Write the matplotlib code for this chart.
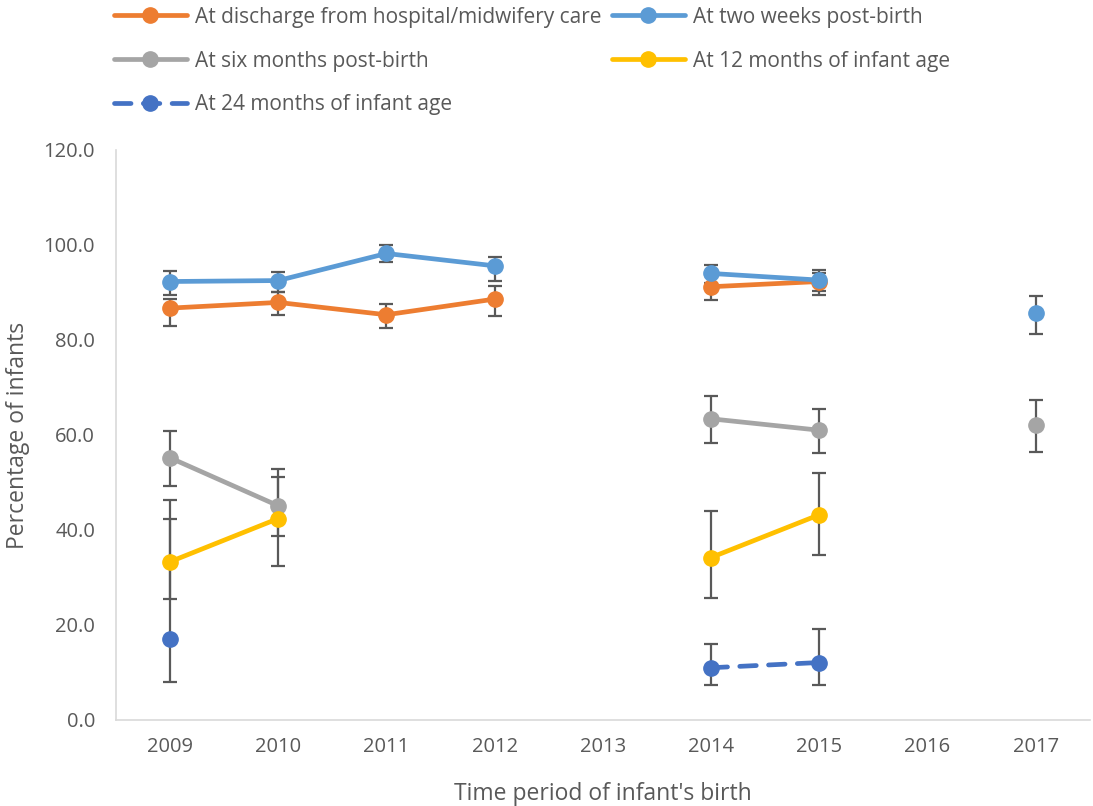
import matplotlib.pyplot as plt
import numpy as np

plt.rcParams['font.family'] = ['Open Sans', 'DejaVu Sans']

nan = np.nan
years = [2009, 2010, 2011, 2012, 2013, 2014, 2015, 2016, 2017]

# point estimates and interval bounds, NaN where no data
discharge = [86.7, 87.9, 85.3, 88.6, nan, 91.2, 92.3, nan, nan]
discharge_lo = [82.9, 85.2, 82.5, 85.1, nan, 88.4, 89.5, nan, nan]
discharge_hi = [88.6, 90.1, 87.6, 91.4, nan, 93.5, 94.0, nan, nan]

two_weeks = [92.3, 92.5, 98.2, 95.6, nan, 94.0, 92.6, nan, 85.7]
two_weeks_lo = [89.5, 90.1, 96.5, 92.5, nan, 92.0, 90.2, nan, 81.3]
two_weeks_hi = [94.6, 94.4, 99.9, 97.5, nan, 95.8, 94.7, nan, 89.2]

six_months = [55.2, 45.1, nan, nan, nan, 63.4, 61.0, nan, 62.1]
six_months_lo = [49.2, 38.8, nan, nan, nan, 58.4, 56.1, nan, 56.4]
six_months_hi = [60.9, 52.8, nan, nan, nan, 68.2, 65.5, nan, 67.3]

twelve_months = [33.3, 42.4, nan, nan, nan, 34.2, 43.2, nan, nan]
twelve_months_lo = [25.4, 32.5, nan, nan, nan, 25.6, 34.7, nan, nan]
twelve_months_hi = [46.4, 51.2, nan, nan, nan, 43.9, 51.9, nan, nan]

months24 = [17.0, nan, nan, nan, nan, 11.0, 12.1, nan, nan]
months24_lo = [7.9, nan, nan, nan, nan, 7.4, 7.4, nan, nan]
months24_hi = [42.3, nan, nan, nan, nan, 16.0, 19.1, nan, nan]

series = [
    ("At discharge from hospital/midwifery care", discharge, discharge_lo, discharge_hi, "#ED7D31", "-"),
    ("At two weeks post-birth", two_weeks, two_weeks_lo, two_weeks_hi, "#5B9BD5", "-"),
    ("At six months post-birth", six_months, six_months_lo, six_months_hi, "#A5A5A5", "-"),
    ("At 12 months of infant age", twelve_months, twelve_months_lo, twelve_months_hi, "#FFC000", "-"),
    ("At 24 months of infant age", months24, months24_lo, months24_hi, "#4472C4", "--"),
]

txt = "#595959"
fig = plt.figure(figsize=(10.93, 8.06), dpi=100)
ax = fig.add_axes([0.106, 0.1067, 0.891, 0.7073])

handles = []
for label, vals, lo, hi, color, ls in series:
    v = np.array(vals)
    yerr = [v - np.array(lo), np.array(hi) - v]
    ax.errorbar(years, v, yerr=yerr, fmt="none", ecolor="#595959",
                elinewidth=1.6, capsize=5, capthick=1.6, zorder=2)
    line, = ax.plot(years, v, color=color, lw=3.4, ls=ls, marker="o",
                    markersize=11, zorder=3, solid_capstyle="round",
                    dash_capstyle="round")
    if ls == "--":
        line.set_dashes((3.5, 2.6))
    handles.append(line)

ax.set_xlim(2008.5, 2017.5)
ax.set_ylim(0, 120)
ax.set_xticks(years)
ax.set_yticks(np.arange(0, 121, 20))
ax.set_yticklabels([f"{t:.1f}" for t in np.arange(0, 121, 20)])
ax.tick_params(length=0, labelsize=14.5, colors=txt)
ax.tick_params(axis="y", pad=15)
ax.tick_params(axis="x", pad=12)
for s in ("top", "right"):
    ax.spines[s].set_visible(False)
for s in ("left", "bottom"):
    ax.spines[s].set_color("#D9D9D9")
    ax.spines[s].set_linewidth(1.2)

ax.set_xlabel("Time period of infant's birth", fontsize=16.5, color=txt, labelpad=18)
ax.set_ylabel("Percentage of infants", fontsize=16.5, color=txt, labelpad=10)

# legend laid out row by row as in the original
order = [0, 2, 4, 1, 3]
fig.legend([handles[i] for i in order], [series[i][0] for i in order],
           loc="upper left", bbox_to_anchor=(0.087, 1.015), ncol=2,
           frameon=False, fontsize=15, labelcolor=txt, handlelength=3.5,
           handletextpad=0.4, columnspacing=0.5, labelspacing=1.1)

fig.savefig("out.png", dpi=100)
